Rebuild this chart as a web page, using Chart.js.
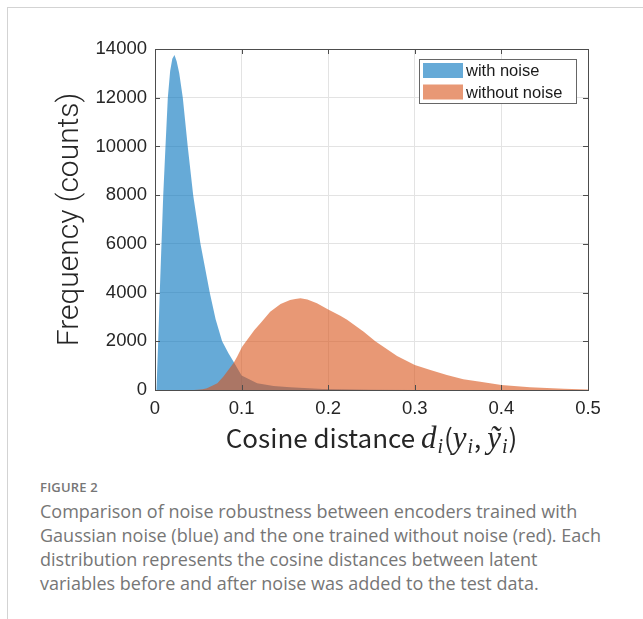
<!DOCTYPE html>
<html>
<head>
<meta charset="utf-8">
<script src="https://cdn.jsdelivr.net/npm/chart.js@4/dist/chart.umd.min.js"></script>
<style>
  html, body { margin: 0; padding: 0; background: #fff; }
  body { width: 643px; height: 619px; position: relative; overflow: hidden; }
  .frame { position: absolute; left: 7px; top: 7px; right: -2px; bottom: -2px;
           border-top: 1px solid #d3d3d3; border-left: 1px solid #d3d3d3; }
  #chart { position: absolute; left: 0; top: 0; }
  .xtitle { position: absolute; left: 155px; width: 433px; top: 418px; text-align: center;
            font-family: "Noto Sans CJK JP", "Noto Sans", sans-serif; font-size: 26px; color: #262626;
            white-space: nowrap; }
  .xtitle i { font-family: "Liberation Serif", serif; font-size: 31px; letter-spacing: 1px; }
  .xtitle sub { font-size: 20px; vertical-align: -5px; line-height: 0; }
  .caption { position: absolute; left: 40px; top: 478px;
             font-family: "Open Sans", "Noto Sans", sans-serif; color: #767676; white-space: nowrap; }
  .caption .label { font-size: 13px; font-weight: 600; letter-spacing: 0.2px; margin-bottom: 3px; }
  .caption .text { font-size: 18px; line-height: 24px; }
</style>
</head>
<body>
<div class="frame"></div>
<canvas id="chart" width="643" height="470"></canvas>
<div class="xtitle">Cosine distance <i>d<sub>i</sub></i>(<i>y<sub>i</sub></i>, <i>ỹ<sub>i</sub></i>)</div>
<div class="caption">
  <div class="label">FIGURE 2</div>
  <div class="text">Comparison of noise robustness between encoders trained with<br>Gaussian noise (blue) and the one trained without noise (red). Each<br>distribution represents the cosine distances between latent<br>variables before and after noise was added to the test data.</div>
</div>
<script>
// histogram outlines (distance, counts)
const seriesNames = ['with noise', 'without noise'];

const withNoiseDist = [0, 0.0017, 0.0037, 0.0055, 0.0075, 0.0095, 0.0121, 0.0148, 0.0175, 0.0200,
  0.0225, 0.0250, 0.0280, 0.0321, 0.0378, 0.0441, 0.0525, 0.0632, 0.0700, 0.0775,
  0.0850, 0.0909, 0.1000, 0.1180, 0.1370, 0.1560, 0.1940, 0.2500, 0.3000, 0.5000];
const withNoiseCount = [0, 0, 2000, 4000, 6000, 8000, 10000, 12000, 13100, 13600,
  13750, 13500, 13000, 12000, 10000, 8000, 6000, 4000, 2900, 2000,
  1500, 1150, 600, 280, 165, 110, 40, 10, 0, 0];

const withoutNoiseDist = [0, 0.045, 0.0487, 0.055, 0.060, 0.072, 0.079, 0.0909, 0.0948, 0.1006,
  0.1148, 0.122, 0.133, 0.145, 0.156, 0.162, 0.168, 0.176, 0.187, 0.200,
  0.214, 0.2218, 0.241, 0.2544, 0.2795, 0.300, 0.318, 0.337, 0.356, 0.3756,
  0.400, 0.433, 0.472, 0.500];
const withoutNoiseCount = [0, 0, 10, 35, 70, 275, 550, 1120, 1370, 1780,
  2460, 2750, 3215, 3530, 3695, 3740, 3765, 3720, 3560, 3300,
  3050, 2880, 2395, 2000, 1400, 1030, 820, 616, 440, 340,
  205, 110, 55, 25];

const xTicks = [0, 0.1, 0.2, 0.3, 0.4, 0.5];
const yTicks = [0, 2000, 4000, 6000, 8000, 10000, 12000, 14000];

const blueFill = 'rgba(0, 114, 189, 0.6)';
const redFill = 'rgba(217, 83, 25, 0.6)';
const axisColor = '#4d4d4d';
const tickFont = { family: '"Liberation Sans", Arial, sans-serif', size: 18.5 };

function toPoints(xs, ys) {
  return xs.map((x, i) => ({ x: x, y: ys[i] }));
}

// box around the axes plus inward ticks, matlab style
const boxPlugin = {
  id: 'box',
  afterDatasetsDraw(chart) {
    const { ctx, chartArea: a, scales } = chart;
    ctx.save();
    ctx.strokeStyle = axisColor;
    ctx.lineWidth = 1;
    ctx.beginPath();
    xTicks.forEach(v => {
      const px = Math.round(scales.x.getPixelForValue(v)) + 0.5;
      ctx.moveTo(px, a.bottom); ctx.lineTo(px, a.bottom - 5);
      ctx.moveTo(px, a.top); ctx.lineTo(px, a.top + 5);
    });
    yTicks.forEach(v => {
      const py = Math.round(scales.y.getPixelForValue(v)) + 0.5;
      ctx.moveTo(a.left, py); ctx.lineTo(a.left + 5, py);
      ctx.moveTo(a.right, py); ctx.lineTo(a.right - 5, py);
    });
    ctx.stroke();
    ctx.strokeRect(Math.round(a.left) + 0.5, Math.round(a.top) + 0.5,
      Math.round(a.right - a.left), Math.round(a.bottom - a.top));
    ctx.restore();
  }
};

const legendPlugin = {
  id: 'boxLegend',
  afterDraw(chart) {
    const { ctx, chartArea: a } = chart;
    const w = 157, h = 44;
    const x0 = Math.round(a.right) - 12 - w, y0 = Math.round(a.top) + 10;
    ctx.save();
    ctx.fillStyle = '#fff';
    ctx.fillRect(x0, y0, w, h);
    ctx.strokeStyle = '#666';
    ctx.lineWidth = 1;
    ctx.strokeRect(x0 + 0.5, y0 + 0.5, w, h);
    ctx.font = '16.5px "Liberation Sans", Arial, sans-serif';
    ctx.textBaseline = 'middle';
    chart.data.datasets.forEach((ds, i) => {
      const cy = y0 + 11.5 + i * 21.5;
      ctx.fillStyle = ds.backgroundColor;
      ctx.fillRect(x0 + 4, cy - 7.5, 40, 15);
      ctx.fillStyle = '#1a1a1a';
      ctx.fillText(ds.label, x0 + 47, cy + 1);
    });
    ctx.restore();
  }
};

new Chart(document.getElementById('chart'), {
  type: 'line',
  data: {
    datasets: [
      {
        label: seriesNames[0],
        data: toPoints(withNoiseDist, withNoiseCount),
        backgroundColor: blueFill,
        borderWidth: 0,
        fill: 'origin',
        pointRadius: 0,
        order: 1
      },
      {
        label: seriesNames[1],
        data: toPoints(withoutNoiseDist, withoutNoiseCount),
        backgroundColor: redFill,
        borderWidth: 0,
        fill: 'origin',
        pointRadius: 0,
        order: 0
      }
    ]
  },
  options: {
    responsive: false,
    animation: false,
    devicePixelRatio: 1,
    layout: {
      padding: { left: 0, top: 49, right: 55, bottom: 50 }
    },
    elements: { line: { tension: 0 } },
    plugins: {
      legend: { display: false },
      tooltip: { enabled: false }
    },
    scales: {
      x: {
        type: 'linear',
        min: 0,
        max: 0.5,
        afterFit: s => { s.height = 30; },
        afterBuildTicks: s => { s.ticks = xTicks.map(v => ({ value: v })); },
        ticks: {
          padding: 8,
          color: '#262626',
          font: tickFont,
          callback: v => String(v)
        },
        grid: { color: '#e3e3e3', drawTicks: false },
        border: { display: false }
      },
      y: {
        min: 0,
        max: 14000,
        afterFit: s => { s.width = 155; },
        afterBuildTicks: s => { s.ticks = yTicks.map(v => ({ value: v })); },
        ticks: {
          padding: 8,
          color: '#262626',
          font: tickFont,
          callback: v => String(v)
        },
        grid: { color: '#e3e3e3', drawTicks: false },
        border: { display: false },
        title: {
          display: true,
          text: 'Frequency (counts)',
          color: '#262626',
          font: { family: 'Roboto, "Liberation Sans", sans-serif', size: 30, weight: 300 },
          padding: { top: 52, bottom: 0 }
        }
      }
    }
  },
  plugins: [boxPlugin, legendPlugin]
});
</script>
</body>
</html>
